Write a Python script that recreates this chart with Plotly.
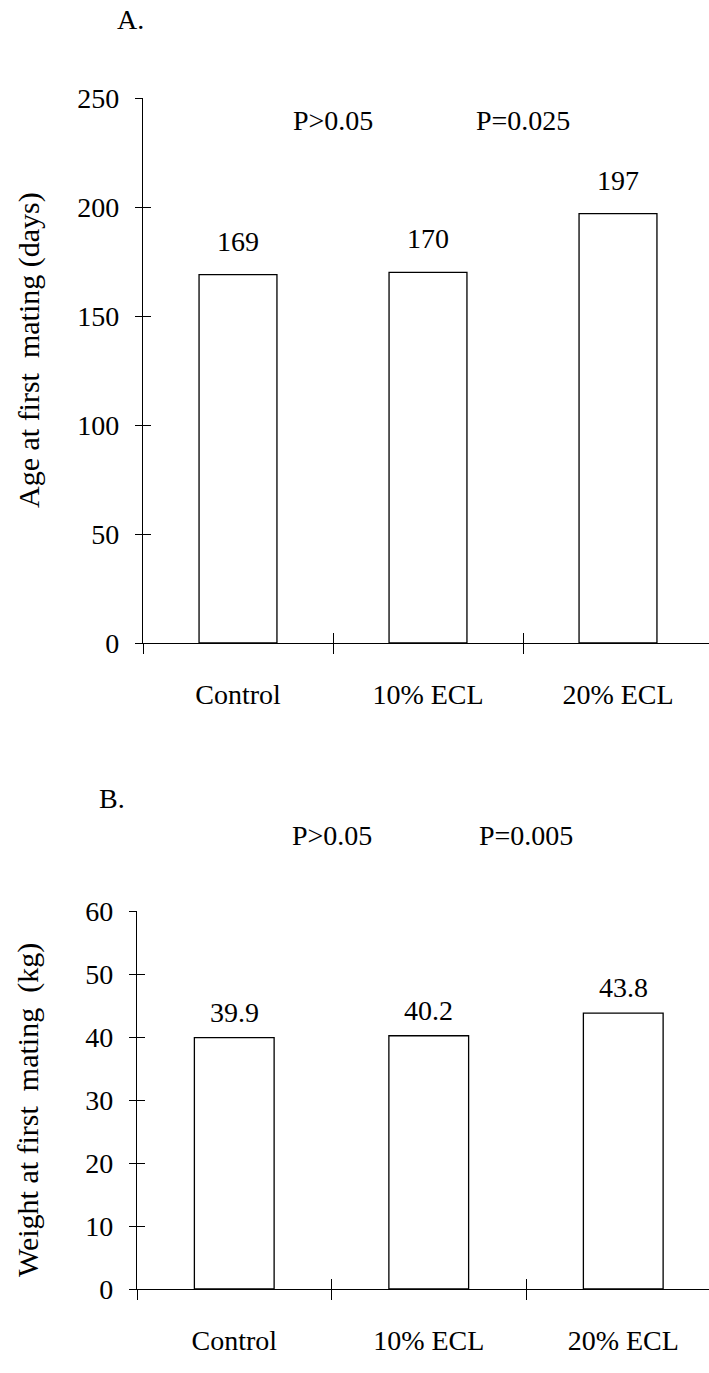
import plotly.graph_objects as go

categories = ["Control", "10% ECL", "20% ECL"]
age_values = [169, 170, 197]
weight_values = [39.9, 40.2, 43.8]
age_labels = ["169", "170", "197"]
weight_labels = ["39.9", "40.2", "43.8"]
age_ticks = [0, 50, 100, 150, 200, 250]
weight_ticks = [0, 10, 20, 30, 40, 50, 60]
age_pvalues = ["P>0.05", "P=0.025"]
weight_pvalues = ["P>0.05", "P=0.005"]
boundaries = [-0.5, 0.5, 1.5, 2.5]

FONT = "Liberation Serif"
W, H = 709, 1373
FS = 28
FS_TITLE = 30


def py(p):
    return 1 - p / H


fig = go.Figure()
xpos = [0, 1, 2]
bar_marker = dict(color="white", line=dict(color="black", width=1.3))

# Panel A
fig.add_trace(go.Bar(x=xpos, y=age_values, width=0.41, marker=bar_marker,
                     xaxis="x", yaxis="y", showlegend=False, hoverinfo="skip"))
fig.add_trace(go.Scatter(x=[None], y=[None], xaxis="x3", yaxis="y3", showlegend=False, hoverinfo="skip"))
fig.add_trace(go.Scatter(x=[None], y=[None], xaxis="x5", yaxis="y", showlegend=False, hoverinfo="skip"))
# Panel B
fig.add_trace(go.Bar(x=xpos, y=weight_values, width=0.41, marker=bar_marker,
                     xaxis="x2", yaxis="y2", showlegend=False, hoverinfo="skip"))
fig.add_trace(go.Scatter(x=[None], y=[None], xaxis="x4", yaxis="y4", showlegend=False, hoverinfo="skip"))
fig.add_trace(go.Scatter(x=[None], y=[None], xaxis="x6", yaxis="y2", showlegend=False, hoverinfo="skip"))

tickfont = dict(family=FONT, size=FS, color="black")

A_left, A_bottom, A_top = 143, 643, 98
A_space = 190.0
A_xr = [-0.5, -0.5 + (W - A_left) / A_space]
B_left, B_bottom, B_top = 137, 1289, 911
B_space = 194.5
B_xr = [-0.5, -0.5 + (W - B_left) / B_space]

hid = dict(showgrid=False, zeroline=False, showline=False, showticklabels=False,
           tickcolor="black", tickwidth=1)


def main_x(left, rng, anchor):
    return dict(domain=[left / W, 1], range=rng, anchor=anchor, tickvals=xpos, ticktext=categories,
                ticks="", showline=True, linecolor="black", linewidth=1.2, showgrid=False, zeroline=False,
                tickfont=tickfont, ticklabelstandoff=26, automargin=False)


def main_y(bottom, top, rng, tv, anchor):
    return dict(domain=[py(bottom), py(top)], range=rng, anchor=anchor, tickvals=tv,
                ticks="outside", ticklen=7, tickcolor="black", tickwidth=1, showline=True,
                linecolor="black", linewidth=1.2, showgrid=False, zeroline=False, tickfont=tickfont,
                ticklabelstandoff=10, automargin=False)


fig.update_layout(
    width=W, height=H, margin=dict(l=0, r=0, t=0, b=0, autoexpand=False),
    paper_bgcolor="white", plot_bgcolor="white",
    font=dict(family=FONT, size=FS, color="black"),
    xaxis=main_x(A_left, A_xr, "y"),
    yaxis=main_y(A_bottom, A_top, [0, 250], age_ticks, "x"),
    xaxis3=dict(overlaying="x", range=A_xr, anchor="y", tickvals=boundaries, ticks="outside", ticklen=10, **hid),
    xaxis5=dict(overlaying="x", range=A_xr, anchor="y", tickvals=boundaries, ticks="inside", ticklen=10, **hid),
    yaxis3=dict(overlaying="y", range=[0, 250], anchor="x", tickvals=age_ticks, ticks="inside", ticklen=8, **hid),
    xaxis2=main_x(B_left, B_xr, "y2"),
    yaxis2=main_y(B_bottom, B_top, [0, 60], weight_ticks, "x2"),
    xaxis4=dict(overlaying="x2", range=B_xr, anchor="y2", tickvals=boundaries, ticks="outside", ticklen=10, **hid),
    xaxis6=dict(overlaying="x2", range=B_xr, anchor="y2", tickvals=boundaries, ticks="inside", ticklen=10, **hid),
    yaxis4=dict(overlaying="y2", range=[0, 60], anchor="x2", tickvals=weight_ticks, ticks="inside", ticklen=8, **hid),
)

tf = dict(family=FONT, size=FS, color="black")
ttf = dict(family=FONT, size=FS_TITLE, color="black")
ann = []
for x, v, t in zip(xpos, age_values, age_labels):
    ann.append(dict(x=x, y=v, xref="x", yref="y", text=t, showarrow=False, yanchor="bottom", yshift=16, font=tf))
for x, v, t in zip(xpos, weight_values, weight_labels):
    ann.append(dict(x=x, y=v, xref="x2", yref="y2", text=t, showarrow=False, yanchor="bottom", yshift=8, font=tf))
for x, t in zip([0.5, 1.5], age_pvalues):
    ann.append(dict(x=x, y=py(120), xref="x", yref="paper", text=t, showarrow=False,
                    xanchor="center", yanchor="middle", font=tf))
for x, t in zip([0.5, 1.5], weight_pvalues):
    ann.append(dict(x=x, y=py(835), xref="x2", yref="paper", text=t, showarrow=False,
                    xanchor="center", yanchor="middle", font=tf))
ann.append(dict(x=130 / W, y=py(19), xref="paper", yref="paper", text="A.", showarrow=False,
                xanchor="center", yanchor="middle", font=tf))
ann.append(dict(x=112 / W, y=py(798), xref="paper", yref="paper", text="B.", showarrow=False,
                xanchor="center", yanchor="middle", font=tf))
ann.append(dict(x=29 / W, y=py(350), xref="paper", yref="paper", text="Age at first\u00a0 mating (days)",
                textangle=-90, showarrow=False, xanchor="center", yanchor="middle", font=ttf))
ann.append(dict(x=28 / W, y=py(1110), xref="paper", yref="paper", text="Weight at first\u00a0 mating\u00a0 (kg)",
                textangle=-90, showarrow=False, xanchor="center", yanchor="middle", font=ttf))
fig.update_layout(annotations=ann)

fig.write_html("out.html", config={"displayModeBar": False},
               post_script="document.body.style.margin='0px';")
